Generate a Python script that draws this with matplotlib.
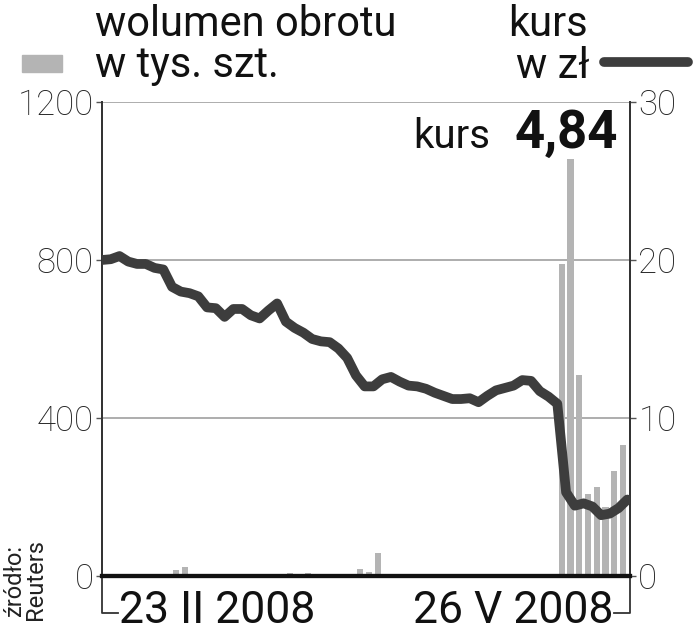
import numpy as np
import matplotlib
matplotlib.use("Agg")
import matplotlib.pyplot as plt

# ---- data ----
kurs = [20.0, 20.05, 20.25, 19.9, 19.75, 19.75, 19.5, 19.4, 18.3, 18.0,
        17.9, 17.7, 17.0, 16.95, 16.4, 16.9, 16.9, 16.5, 16.3, 16.8,
        17.25, 16.1, 15.7, 15.4, 15.0, 14.85, 14.8, 14.4, 13.8, 12.7,
        12.0, 12.0, 12.45, 12.6, 12.3, 12.05, 12.0, 11.85, 11.6, 11.4,
        11.2, 11.2, 11.25, 11.0, 11.4, 11.75, 11.9, 12.05, 12.4, 12.35,
        11.7, 11.35, 10.9, 5.3, 4.45, 4.6, 4.4, 3.85, 3.95, 4.3,
        4.84]
wolumen = [0, 0, 0, 0, 0, 0, 0, 3, 0, 14,
           23, 0, 0, 0, 0, 0, 0, 0, 4, 0,
           0, 0, 8, 0, 7, 5, 0, 0, 0, 2,
           18, 10, 59, 0, 0, 0, 0, 0, 0, 0,
           0, 0, 0, 0, 0, 0, 0, 0, 0, 2,
           2, 2, 2, 790, 1080, 510, 207, 226, 175, 266,
           331]
vol_ticks = [0, 400, 800, 1200]
kurs_ticks = [0, 10, 20, 30]
date_labels = ["23 II 2008", "26 V 2008"]
last_value = "4,84"

plt.rcParams['font.family'] = ['Roboto', 'DejaVu Sans']

fig = plt.figure(figsize=(6.94, 6.40), dpi=100)
ax = fig.add_axes([102/694, 64/640, 528/694, 474/640])
ax2 = ax.twinx()

x = np.arange(len(kurs))
ax.bar(x - 0.5, wolumen, width=0.7, color='#b4b4b4', zorder=2)
ax2.plot(x, kurs, color='#3d3d3d', lw=7, solid_capstyle='round',
         solid_joinstyle='round', zorder=3)

ax.set_xlim(0, 60.3)
ax.set_ylim(0, 1200)
ax2.set_ylim(0, 30)

for v in vol_ticks[1:]:
    ax.axhline(v, color='#a0a0a0', lw=1.2, zorder=1)

ax.set_yticks(vol_ticks)
ax.set_yticklabels([str(v) for v in vol_ticks], fontsize=25, fontweight='light',
                   color='#222222')
ax2.set_yticks(kurs_ticks)
ax2.set_yticklabels([str(v) for v in kurs_ticks], fontsize=25, fontweight='light',
                    color='#222222')
ax.tick_params(axis='y', length=4, width=1, color='#555555', pad=2)
ax2.tick_params(axis='y', length=4, width=1, color='#555555', pad=2)
ax.set_xticks([])

for a in (ax, ax2):
    a.spines['top'].set_visible(False)
    a.spines['left'].set_color('#333333')
    a.spines['right'].set_color('#333333')
    a.spines['left'].set_linewidth(1.3)
    a.spines['right'].set_linewidth(1.3)
    a.spines['bottom'].set_linewidth(3)
    a.spines['bottom'].set_color('#111111')
    a.patch.set_visible(False)

# date brackets
ax.plot([0, 0, 0.03], [0, -0.078, -0.078], transform=ax.transAxes, color='#333333',
        lw=1.3, clip_on=False)
ax.plot([1, 1, 0.97], [0, -0.078, -0.078], transform=ax.transAxes, color='#333333',
        lw=1.3, clip_on=False)
fig.text(119/694, 1 - 611/640, date_labels[0], fontsize=32, ha='left', va='center',
         color='#111111')
fig.text(613/694, 1 - 611/640, date_labels[1], fontsize=32, ha='right', va='center',
         color='#111111')

# source
fig.text(25/694, 1 - 580/640, "źródło:\nReuters", fontsize=17, rotation=90,
         ha='center', va='center', color='#222222', linespacing=0.9)

# header / legend
fig.text(95/694, 1 - 25/640, "wolumen obrotu", fontsize=30, ha='left', va='center',
         color='#111111')
fig.text(95/694, 1 - 66/640, "w tys. szt.", fontsize=30, ha='left', va='center',
         color='#111111')
fig.patches.append(matplotlib.patches.Rectangle((22/694, 1 - 72/640), 40/694, 17/640,
                   transform=fig.transFigure, color='#b4b4b4'))
fig.text(588/694, 1 - 25/640, "kurs", fontsize=30, ha='right', va='center',
         color='#111111')
fig.text(589/694, 1 - 66/640, "w zł", fontsize=30, ha='right', va='center',
         color='#111111')
fig.lines.append(matplotlib.lines.Line2D([604/694, 688/694], [1 - 62/640, 1 - 62/640],
                 transform=fig.transFigure, color='#3d3d3d', lw=7,
                 solid_capstyle='round'))

# last value
fig.text(490/694, 1 - 136/640, "kurs", fontsize=29, ha='right', va='center',
         color='#111111')
fig.text(618/694, 1 - 133/640, last_value, fontsize=38, fontweight='bold',
         ha='right', va='center', color='#111111',
         bbox=dict(facecolor='white', edgecolor='none', pad=0))

fig.savefig("out.png", dpi=100)
